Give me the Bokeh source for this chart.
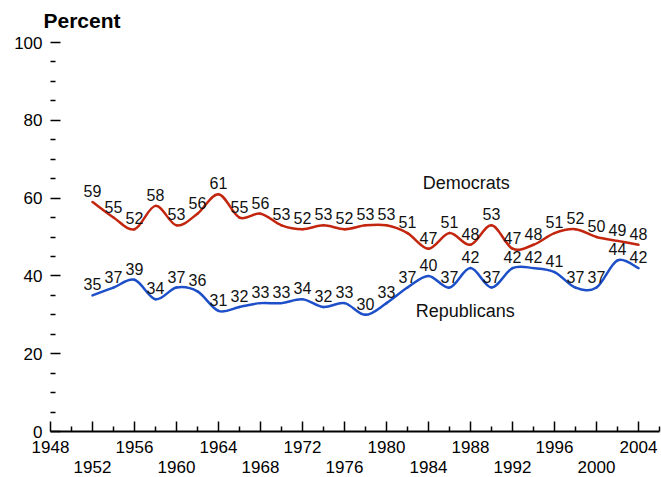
from bokeh.plotting import figure
from bokeh.models import FixedTicker, LinearAxis, Range1d, Label
from bokeh.embed import file_html
from bokeh.resources import INLINE
from bokeh.core.properties import value

# Party identification, percent of respondents, 1952-2004
years = list(range(1952, 2005, 2))
democrats = [59, 55, 52, 58, 53, 56, 61, 55, 56, 53, 52, 53, 52, 53,
             53, 51, 47, 51, 48, 53, 47, 48, 51, 52, 50, 49, 48]
republicans = [35, 37, 39, 34, 37, 36, 31, 32, 33, 33, 34, 32, 33, 30,
               33, 37, 40, 37, 42, 37, 42, 42, 41, 37, 37, 44, 42]

year_labels_upper = list(range(1948, 2005, 8))
year_labels_lower = list(range(1952, 2005, 8))
year_major = list(range(1948, 2005, 4))
year_minor = list(range(1950, 2007, 4))
percent_major = list(range(0, 101, 20))
percent_minor = [v for v in range(0, 101, 5) if v % 20]

FONT = "Liberation Sans"
DEM_COLOR = "#c2260f"
REP_COLOR = "#1d4fc8"

p = figure(width=661, height=477, x_range=Range1d(1948, 2006),
           y_range=Range1d(0, 100), output_backend="svg",
           toolbar_location=None, min_border_left=50, min_border_right=2,
           min_border_top=41, min_border_bottom=46)
p.outline_line_color = None
p.grid.visible = False
p.background_fill_color = "white"
p.border_fill_color = "white"

# unit caption above the value axis
p.title.text = "Percent"
p.title.text_font = FONT
p.title.text_font_size = "21px"
p.title.text_font_style = "bold"
p.title.text_color = "black"
p.title.align = "left"
p.title.vertical_align = "top"
p.title.offset = -7
p.title.standoff = 17

# x axis: ticks pointing up, year labels staggered on two rows
xa = p.xaxis[0]
xa.ticker = FixedTicker(ticks=year_major, minor_ticks=year_minor)
xa.major_label_overrides = {y: "" for y in year_labels_lower}
xa.axis_line_width = 2
xa.axis_line_color = "black"
xa.major_tick_in = 10
xa.major_tick_out = 0
xa.minor_tick_in = 5
xa.minor_tick_out = 0
xa.major_tick_line_width = 1.5
xa.minor_tick_line_width = 1.5
xa.major_label_standoff = 9
xa.major_label_text_font = FONT
xa.major_label_text_font_size = "17px"
xa.major_label_text_color = "black"

xa2 = LinearAxis(ticker=FixedTicker(ticks=year_labels_lower, minor_ticks=[]),
                 axis_line_color=None, major_tick_line_color=None,
                 minor_tick_line_color=None, major_tick_in=0,
                 major_tick_out=0, major_label_standoff=5,
                 major_label_text_font=FONT,
                 major_label_text_font_size="17px",
                 major_label_text_color="black")
p.add_layout(xa2, "below")

# y axis: dashes only, no spine
ya = p.yaxis[0]
ya.ticker = FixedTicker(ticks=percent_major, minor_ticks=percent_minor)
ya.axis_line_color = None
ya.major_tick_in = 10
ya.major_tick_out = 0
ya.minor_tick_in = 5
ya.minor_tick_out = 0
ya.major_tick_line_width = 1.5
ya.minor_tick_line_width = 1.5
ya.major_label_standoff = 8
ya.major_label_text_font = FONT
ya.major_label_text_font_size = "17px"
ya.major_label_text_color = "black"


def smooth_segments(xs, ys):
    """Cubic Bezier segments (Catmull-Rom style) through every point."""
    n = len(xs)
    seg = dict(x0=[], y0=[], x1=[], y1=[], cx0=[], cy0=[], cx1=[], cy1=[])
    for i in range(n - 1):
        xa_, ya_ = xs[i], ys[i]
        xb, yb = xs[i + 1], ys[i + 1]
        xp, yp = (xs[i - 1], ys[i - 1]) if i > 0 else (xa_, ya_)
        xn, yn = (xs[i + 2], ys[i + 2]) if i + 2 < n else (xb, yb)
        seg["x0"].append(xa_)
        seg["y0"].append(ya_)
        seg["x1"].append(xb)
        seg["y1"].append(yb)
        seg["cx0"].append(xa_ + (xb - xp) / 6)
        seg["cy0"].append(ya_ + (yb - yp) / 6)
        seg["cx1"].append(xb - (xn - xa_) / 6)
        seg["cy1"].append(yb - (yn - ya_) / 6)
    return seg


for vals, color in ((democrats, DEM_COLOR), (republicans, REP_COLOR)):
    p.bezier(**smooth_segments(years, vals), line_color=color,
             line_width=2.5, line_cap="round")
    p.text(x=years, y=vals, text=[str(v) for v in vals],
           text_align="center", text_baseline="alphabetic", y_offset=-11,
           text_font=value(FONT), text_font_size="16px",
           text_color="#111111")

p.add_layout(Label(x=1987.6, y=63.9, text="Democrats", text_align="center",
                   text_baseline="alphabetic", text_font=FONT,
                   text_font_size="18px", text_color="#111111"))
p.add_layout(Label(x=1987.5, y=31.1, text="Republicans", text_align="center",
                   text_baseline="alphabetic", text_font=FONT,
                   text_font_size="18px", text_color="#111111"))

open("out.html", "w").write(file_html(p, INLINE))
